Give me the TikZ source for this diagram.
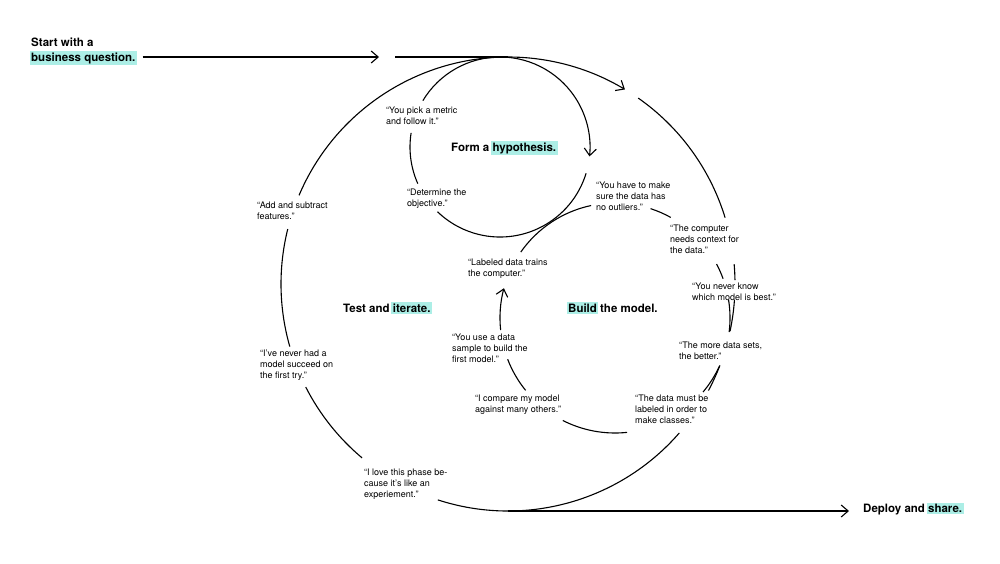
\documentclass[tikz,border=0pt]{standalone}
\usepackage{fontspec}
\setmainfont{TeX Gyre Heros}
\usepackage{tikz}
\usetikzlibrary{arrows.meta}
\definecolor{mint}{RGB}{172,238,230}
\newcommand{\hl}[1]{{\setlength{\fboxsep}{1.5pt}\kern-1.5pt\colorbox{mint}{#1}\kern-1.5pt}}

\begin{document}
\begin{tikzpicture}[x=1pt, y=1pt, >={Straight Barb[length=7pt, width=12pt]},
		quote/.style={anchor=north west, inner sep=0pt, align=left,
			font=\fontsize{9}{11}\selectfont},
		head/.style={anchor=base west, inner sep=0pt,
			font=\bfseries\fontsize{11.5}{13}\selectfont},
		loop/.style={line width=1.1pt}]

		\path [fill=white, use as bounding box] (0,0) rectangle (1000,-563);

		% Centres of the three loops
		\coordinate (outer) at (508,-284);
		\coordinate (form-c) at (500,-147);
		\coordinate (build-c) at (615,-318);

		% Headings
		\node [head] (start) at (31,-46.5) {Start with a};
		\node [head] (question) at (31,-61) {\hl{business question.}};
		\node [head] (form) at (451,-151) {Form a \hl{hypothesis.}};
		\node [head] (test) at (343,-312) {Test and \hl{iterate.}};
		\node [head] (build) at (568,-312) {\hl{Build} the model.};
		\node [head] (deploy) at (863,-512.5) {Deploy and \hl{share.}};

		% Quotes on the hypothesis loop
		\node [quote] (metric) at (386,-107) {“You pick a metric\\and follow it.”};
		\node [quote] (objective) at (407,-189) {“Determine the\\objective.”};

		% Quotes on the outer loop
		\node [quote] (features) at (257,-202) {“Add and subtract\\features.”};
		\node [quote] (nevertry) at (260,-350) {“I’ve never had a\\model succeed on\\the first try.”};
		\node [quote] (experiment) at (364,-469) {“I love this phase be-\\cause it’s like an\\experiement.”};
		\node [quote] (context) at (670,-225) {“The computer\\needs context for\\the data.”};
		\node [quote] (neverknow) at (692,-283) {“You never know\\which model is best.”};
		\node [quote] (moresets) at (679,-342) {“The more data sets,\\the better.”};
		\node [quote] (classes) at (635,-395) {“The data must be\\labeled in order to\\make classes.”};

		% Quotes on the model loop
		\node [quote] (outliers) at (596,-182) {“You have to make\\sure the data has\\no outliers.”};
		\node [quote] (labeled) at (468,-259) {“Labeled data trains\\the computer.”};
		\node [quote] (sample) at (452,-334) {“You use a data\\sample to build the\\first model.”};
		\node [quote] (compare) at (475,-395) {“I compare my model\\against many others.”};

		% In and out
		\coordinate (in-tip) at (379,-57);
		\coordinate (in-go) at (395,-57);
		\coordinate (out-tip) at (849,-511);
		\draw [->, loop, shorten <=7pt] (question.east |- in-tip) -- (in-tip);
		\draw [loop] (in-go) -- ([yshift=227pt]outer);
		\draw [->, loop] ([yshift=-227pt]outer) -- (out-tip);

		% Outer loop
		\draw [->, loop] ([shift={(90:227)}]outer) arc [start angle=90, end angle=59, radius=227];
		\foreach \a/\b in {55/17, 5/1, -4/-12, -21/-28, -41/-108, 230/207, 196/166, 157/90}
			\draw [loop] ([shift={(\a:227)}]outer) arc [start angle=\a, end angle=\b, radius=227];

		% Hypothesis loop
		\draw [->, loop] ([shift={(90:90)}]form-c) arc [start angle=90, end angle=-6, radius=90];
		\foreach \a/\b in {-17/-134, 204/171, 149/90}
			\draw [loop] ([shift={(\a:90)}]form-c) arc [start angle=\a, end angle=\b, radius=90];

		% Model loop
		\draw [->, loop] ([shift={(186:115)}]build-c) arc [start angle=186, end angle=165, radius=115];
		\foreach \a/\b in {145/102, 219/201, 276/243, -25/-40, 9/-7, 28/20, 72/61}
			\draw [loop] ([shift={(\a:115)}]build-c) arc [start angle=\a, end angle=\b, radius=115];

	\end{tikzpicture}
\end{document}
